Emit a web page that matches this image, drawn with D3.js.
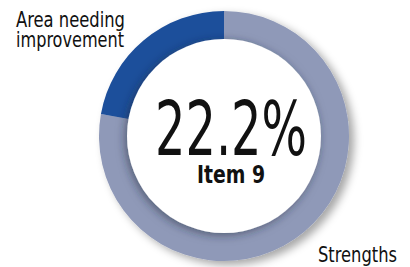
<!DOCTYPE html>
<html>
<head>
<meta charset="utf-8">
<script src="https://cdn.jsdelivr.net/npm/d3@7"></script>
<style>
  body { margin: 0; background: #fff; }
  text { font-family: "Liberation Sans Narrow", "DejaVu Sans Condensed", "Roboto", sans-serif; font-stretch: condensed; fill: #111; }
</style>
</head>
<body>
<svg id="donut" width="410" height="267"></svg>
<script>
// slices, clockwise from 12 o'clock
let sliceNames = ["Strengths", "Area needing improvement"]
let sliceValues = [77.8, 22.2]
let sliceColors = ["#8f99b8", "#1e4f9b"]
let centerValue = "22.2%"
let centerLabel = "Item 9"

let svg = d3.select("#donut")
let cx = 224, cy = 136
let outerR = 125, innerR = 97

let defs = svg.append("defs")
let ringShadow = defs.append("filter")
    .attr("id", "ring-shadow")
    .attr("x", "-20%").attr("y", "-20%")
    .attr("width", "140%").attr("height", "140%")
ringShadow.append("feDropShadow")
    .attr("dx", 5).attr("dy", 4)
    .attr("stdDeviation", 4)
    .attr("flood-color", "#000")
    .attr("flood-opacity", 0.35)

let innerShadow = defs.append("filter")
    .attr("id", "inner-shadow")
    .attr("x", "-20%").attr("y", "-20%")
    .attr("width", "140%").attr("height", "140%")
innerShadow.append("feDropShadow")
    .attr("dx", -2).attr("dy", 2)
    .attr("stdDeviation", 5)
    .attr("flood-color", "#20253a")
    .attr("flood-opacity", 0.55)

let pie = d3.pie().sort(null)
let arc = d3.arc().innerRadius(innerR - 6).outerRadius(outerR)

let g = svg.append("g").attr("transform", `translate(${cx},${cy})`)

g.append("g")
    .attr("filter", "url(#ring-shadow)")
    .selectAll("path")
    .data(pie(sliceValues))
    .enter()
    .append("path")
      .attr("d", arc)
      .style("fill", (d, i) => sliceColors[i])

// white middle with its soft shadow on the ring
g.append("circle")
    .attr("r", innerR)
    .style("fill", "#fff")
    .attr("filter", "url(#inner-shadow)")

g.append("text")
    .attr("x", 7)
    .attr("y", 19)
    .attr("text-anchor", "middle")
    .attr("textLength", 152)
    .attr("lengthAdjust", "spacingAndGlyphs")
    .style("font-size", "75px")
    .text(centerValue)

g.append("text")
    .attr("x", 7)
    .attr("y", 47)
    .attr("text-anchor", "middle")
    .attr("textLength", 68)
    .attr("lengthAdjust", "spacingAndGlyphs")
    .style("font-size", "25px")
    .style("font-weight", "bold")
    .text(centerLabel)

// slice labels
let areaLabel = svg.append("text")
    .style("font-size", "21px")
areaLabel.append("tspan")
    .attr("x", 16).attr("y", 27)
    .attr("textLength", 109)
    .attr("lengthAdjust", "spacingAndGlyphs")
    .text("Area needing")
areaLabel.append("tspan")
    .attr("x", 16).attr("y", 47)
    .attr("textLength", 108)
    .attr("lengthAdjust", "spacingAndGlyphs")
    .text("improvement")

svg.append("text")
    .attr("x", 318)
    .attr("y", 262)
    .attr("textLength", 79)
    .attr("lengthAdjust", "spacingAndGlyphs")
    .style("font-size", "21px")
    .text(sliceNames[0])
</script>
</body>
</html>
